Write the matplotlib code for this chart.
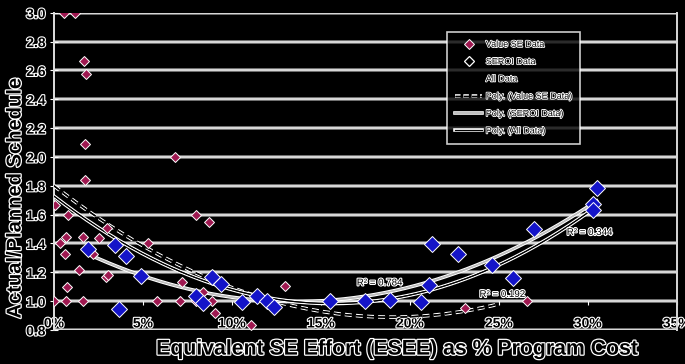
import numpy as np
import matplotlib
matplotlib.use("Agg")
import matplotlib.pyplot as plt
import matplotlib.patheffects as pe
from matplotlib.lines import Line2D

plt.rcParams['font.family'] = ['Liberation Sans', 'DejaVu Sans']

# Value SE Data (x in %, y = actual/planned schedule)
value_x = [0.56, 1.18, 1.69, 1.78, 1.74, 6.8, 1.74, 0.07, 0.77, 0.67, 1.61, 2.51, 3.0,
           0.34, 5.26, 0.6, 1.42, 2.92, 3.05, 2.2, 0.75, 0.02, 0.66, 1.65, 5.8,
           8.0, 8.7, 7.2, 8.35, 7.08, 8.9, 8.0, 9.05, 11.05, 13.0, 17.3, 23.1, 26.6]
value_y = [3.0, 3.0, 2.665, 2.575, 2.09, 2.0, 1.84, 1.667, 1.60, 1.447, 1.447, 1.44, 1.505,
           1.40, 1.40, 1.33, 1.216, 1.17, 1.18, 1.33, 1.10, 1.0, 1.0, 1.0, 1.0,
           1.60, 1.547, 1.135, 1.065, 1.0, 1.0, 1.0, 0.915, 0.834, 1.107, 1.0, 0.95, 1.0]

# SEROI Data
seroi_x = [1.93, 3.43, 4.03, 4.87, 3.67, 8.86, 9.36, 8.0, 8.35, 10.54, 11.42, 11.98, 12.36,
           15.5, 17.5, 18.9, 20.6, 21.1, 21.25, 22.7, 24.6, 25.8, 27.0, 30.5, 30.3, 30.3]
seroi_y = [1.36, 1.39, 1.31, 1.174, 0.943, 1.165, 1.117, 1.037, 0.99, 0.996, 1.037, 1.003, 0.957,
           1.0, 1.0, 1.007, 0.996, 1.11, 1.396, 1.33, 1.25, 1.158, 1.498, 1.782, 1.673, 1.63]

# Poly. (Value SE Data) trendline: coefficients (x^2, x, 1) and x-range
value_trend_coef = [0.002522, -0.09585, 1.8]
value_trend_range = [0.0, 25.0]

r2_labels = ["R² = 0.784", "R² = 0.344", "R² = 0.192"]
x_ticks = [0, 5, 10, 15, 20, 25, 30, 35]
x_tick_labels = ["0%", "5%", "10%", "15%", "20%", "25%", "30%", "35%"]
y_ticks = [0.8, 1.0, 1.2, 1.4, 1.6, 1.8, 2.0, 2.2, 2.4, 2.6, 2.8, 3.0]

BG = 'black'
outline = [pe.withStroke(linewidth=1.6, foreground='white')]

fig = plt.figure(figsize=(6.85, 3.64), dpi=100, facecolor=BG)
ax = fig.add_axes([0.0788, 0.0934, 0.9092, 0.8716], facecolor=BG)

ax.set_xlim(0, 35)
ax.set_ylim(0.8, 3.0)

# gridlines
for yv in y_ticks:
    ax.axhline(yv, color='#d8d8d8', lw=1.4, zorder=1,
               path_effects=[pe.withStroke(linewidth=2.6, foreground='#8a8a8a'), pe.Normal()])

vx, vy = np.array(value_x), np.array(value_y)
sx, sy = np.array(seroi_x), np.array(seroi_y)
ax_all = np.concatenate([vx, sx]); ay_all = np.concatenate([vy, sy])

def trend(x, y):
    c = np.polyfit(x, y, 2)
    xs = np.linspace(x.min(), x.max(), 200)
    return xs, np.polyval(c, xs)

line_fx = [pe.withStroke(linewidth=2.6, foreground='white'), pe.Normal()]
xs = np.linspace(value_trend_range[0], value_trend_range[1], 200)
ax.plot(xs, np.polyval(value_trend_coef, xs), color='black', lw=1.0, ls=(0, (5, 3)),
        zorder=3, path_effects=line_fx)
xs, ys = trend(sx, sy)
ax.plot(xs, ys, color='#bfbfbf', lw=1.0, zorder=3, path_effects=line_fx)
xs, ys = trend(ax_all, ay_all)
ax.plot(xs, ys, color='black', lw=0.8, zorder=3, path_effects=line_fx)

ax.plot(value_x, value_y, ls='none', marker='D', ms=5.5, mfc='#9e1850', mec='white', mew=0.7, zorder=4)
ax.plot(seroi_x, seroi_y, ls='none', marker='D', ms=8.5, mfc='#1414c8', mec='white', mew=0.7, zorder=5)

# R² labels
r2_pos = [(18.3, 1.13), (30.1, 1.48), (25.2, 1.05)]
for (px, py), t in zip(r2_pos, r2_labels):
    ax.text(px, py, t, fontsize=7, color='black', ha='center', va='center',
            path_effects=outline, zorder=6)

# axes
ax.spines['top'].set_visible(False)
ax.spines['right'].set_color('#d8d8d8')
ax.spines['right'].set_linewidth(1.4)
ax.spines['left'].set_color('#e0e0e0')
ax.spines['left'].set_linewidth(1.4)
ax.spines['bottom'].set_position(('data', 1.0))
ax.spines['bottom'].set_visible(False)

ax.set_xticks(x_ticks)
ax.set_xticklabels(x_tick_labels)
ax.set_yticks(y_ticks)
ax.set_yticklabels([f"{v:.1f}" for v in y_ticks])
ax.tick_params(axis='x', direction='out', length=3, color='white', pad=8, labelsize=10)
ax.tick_params(axis='y', direction='inout', length=6, color='white', pad=3, labelsize=10)
for lbl in ax.get_xticklabels() + ax.get_yticklabels():
    lbl.set_color('black')
    lbl.set_fontweight('bold')
    lbl.set_path_effects(outline)
ax.get_xticklabels()[-1].set_clip_on(False)

fig.text(0.022, 0.455, "Actual/Planned Schedule", fontsize=14.5, fontweight='bold',
         color='black', rotation=90, ha='center', va='center',
         path_effects=[pe.withStroke(linewidth=1.8, foreground='white')])
fig.text(0.58, 0.041, "Equivalent SE Effort (ESEE) as % Program Cost", fontsize=15.3,
         fontweight='bold', color='black', ha='center', va='center',
         path_effects=[pe.withStroke(linewidth=1.8, foreground='white')])

handles = [
    Line2D([], [], ls='none', marker='D', ms=5, mfc='#9e1850', mec='white', mew=0.7),
    Line2D([], [], ls='none', marker='D', ms=5, mfc='black', mec='white', mew=0.9),
    Line2D([], [], ls='none'),
    Line2D([], [], color='black', lw=1.0, ls=(0, (4, 2)), path_effects=line_fx),
    Line2D([], [], color='#bfbfbf', lw=1.2, path_effects=line_fx),
    Line2D([], [], color='black', lw=0.8, path_effects=line_fx),
]
labels = ["Value SE Data", "SEROI Data", "All Data", "Poly. (Value SE Data)",
          "Poly. (SEROI Data)", "Poly. (All Data)"]
leg = ax.legend(handles, labels, loc='upper left', bbox_to_anchor=(0.631, 0.94),
                fontsize=6.5, frameon=True, fancybox=False, facecolor='black',
                edgecolor='white', handlelength=3.0, labelspacing=0.92, borderpad=0.9,
                handletextpad=0.4, borderaxespad=0)
leg.get_frame().set_linewidth(1.2)
for t in leg.get_texts():
    t.set_color('black')
    t.set_path_effects([pe.withStroke(linewidth=1.2, foreground='white')])

fig.savefig("out.png", dpi=100, facecolor=BG)
